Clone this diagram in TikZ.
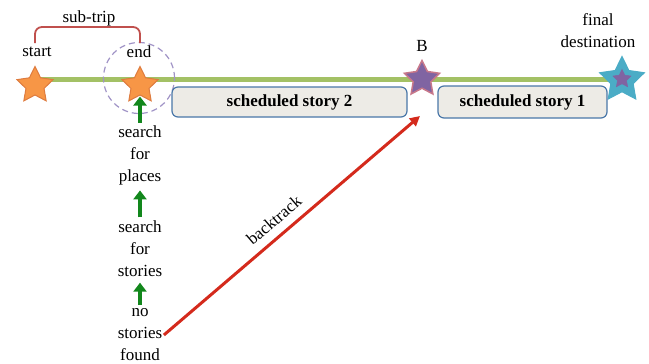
\documentclass[tikz,border=0pt]{standalone}
\usepackage{fontspec}
\setmainfont{Liberation Serif}
\usetikzlibrary{shapes.geometric,arrows.meta}
\definecolor{lgreen}{HTML}{A3C165}
\definecolor{sorange}{HTML}{F79646}
\definecolor{sorangeD}{HTML}{DE7B3E}
\definecolor{spurple}{HTML}{8064A2}
\definecolor{spink}{HTML}{C8788A}
\definecolor{scyan}{HTML}{4BACC6}
\definecolor{bracketred}{HTML}{C0504D}
\definecolor{boxfill}{HTML}{EDEBE6}
\definecolor{boxedge}{HTML}{4A77A8}
\definecolor{arrgreen}{HTML}{12871C}
\definecolor{arrred}{HTML}{D42A1C}
\definecolor{dashpurple}{HTML}{A093C6}
\begin{document}
\begin{tikzpicture}[x=1pt,y=-1pt,
  font=\fontsize{17}{22}\selectfont,
  lbl/.style={inner sep=1.5pt, align=center},
  starnode/.style={star, star points=5, star point ratio=2.0, minimum size=38pt, inner sep=0pt, draw, line width=1pt},
  storybox/.style={draw=boxedge, fill=boxfill, line width=1.2pt, rounded corners=6pt, inner sep=0pt, font=\fontsize{17}{22}\selectfont\bfseries},
  garrow/.style={arrgreen, line width=4.5pt, -{Triangle[length=9pt,width=13pt]}},
  rarrow/.style={arrred, line width=3pt, -{Triangle[length=10pt,width=10pt]}},
  bracket/.style={bracketred, line width=1.8pt, rounded corners=7pt}
]
\useasboundingbox (0,0) rectangle (649,364);
% route line
\coordinate (ls) at (35,79.5);
\coordinate (le) at (622,79.5);
\draw[lgreen, line width=5pt] (ls) -- (le);
% dashed circle
\node[circle, draw=dashpurple, dashed, dash pattern=on 6pt off 4pt, line width=1.2pt, minimum size=71pt, inner sep=0pt] (dc) at (139,78) {};
% stars
\node[starnode, fill=sorange, draw=sorangeD] (s1) at (35,85.5) {};
\node[starnode, fill=sorange, draw=sorangeD] (s2) at (140,85.5) {};
\node[starnode, fill=spurple, draw=spink, minimum size=37pt, line width=1.5pt] (sB) at (422,79) {};
\node[starnode, fill=scyan, draw=scyan, minimum size=47pt] (sF) at (622,80) {};
\node[starnode, fill=spurple, draw=spurple, minimum size=19pt, line width=0.5pt] (sFi) at (622,79) {};
% labels
\node[lbl] (startl) at (37,52) {start};
\node[lbl] (endl) at (139,52) {end};
\node[lbl] (subtrip) at (89,18) {sub-trip};
\node[lbl] (Bl) at (422,46) {B};
\node[lbl] (finall) at (598,31) {final\\destination};
% bracket
\coordinate (bl) at (35,43);
\coordinate (br) at (140,43);
\draw[bracket] (bl) -- ++(0,-16) -| (br);
% boxes
\node[storybox, minimum width=235pt, minimum height=30pt] (b2) at (289.5,102) {scheduled story 2};
\node[storybox, minimum width=169pt, minimum height=32pt] (b1) at (522.5,102) {scheduled story 1};
% search chain
\node[lbl] (sfp) at (140,155) {search\\for\\places};
\node[lbl] (sfs) at (140,249) {search\\for\\stories};
\node[lbl] (nsf) at (140,335) {no\\stories\\found};
\draw[garrow, shorten <=1pt, shorten >=1pt] (sfp.north) -- (s2.south);
\draw[garrow, shorten <=2pt, shorten >=4pt] (sfs.north) -- (sfp.south);
\draw[garrow, shorten <=2pt, shorten >=4pt] (nsf.north) -- (sfs.south);
% backtrack
\coordinate (bt) at (420,116);
\draw[rarrow] (nsf.east) -- (bt) node[pos=0.47, sloped, above=5pt, text=black] (btl) {backtrack};
\end{tikzpicture}
\end{document}
